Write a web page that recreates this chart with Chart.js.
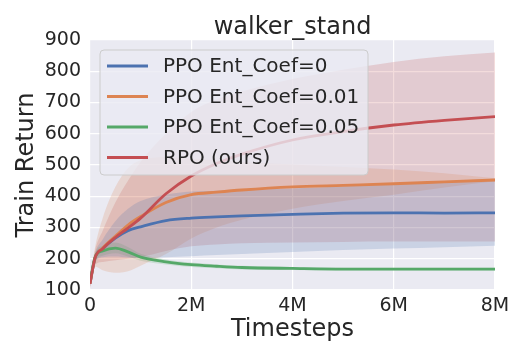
<!DOCTYPE html>
<html>
<head>
<meta charset="utf-8">
<script src="https://cdn.jsdelivr.net/npm/chart.js@4"></script>
<style>
  body { margin: 0; background: #fff; }
</style>
</head>
<body>
<canvas id="myChart" width="525" height="360"></canvas>
<script>
// timesteps in millions
var stepsM = [0, 0.1, 0.25, 0.5, 0.75, 1, 1.5, 2, 2.5, 3, 4, 5, 6, 7, 8];

var ppo0Mean = [120, 203, 232, 266, 290, 302, 322, 330, 334, 337, 342, 346, 347, 346, 347];
var ppo0Low  = [112, 188, 205, 207, 204, 203, 205, 208, 212, 215, 222, 228, 233, 237, 242];
var ppo0High = [128, 218, 262, 320, 360, 385, 405, 415, 418, 420, 425, 432, 440, 448, 456];

var ppo001Mean = [120, 203, 234, 272, 308, 335, 380, 405, 413, 420, 430, 435, 440, 446, 452];
var ppo001Low  = [110, 175, 163, 155, 160, 178, 215, 265, 300, 325, 360, 385, 405, 428, 448];
var ppo001High = [130, 237, 330, 430, 490, 515, 525, 520, 515, 510, 502, 494, 486, 474, 458];

var ppo005Mean = [125, 205, 225, 234, 222, 205, 190, 181, 176, 172, 169, 167, 167, 167, 167];
var ppo005Low  = [117, 192, 210, 218, 207, 194, 182, 174, 170, 166, 164, 163, 163, 163, 163];
var ppo005High = [133, 218, 242, 252, 238, 216, 198, 188, 182, 178, 174, 171, 171, 171, 171];

var rpoMean = [120, 203, 232, 268, 298, 330, 408, 465, 505, 535, 580, 607, 628, 643, 655];
var rpoLow  = [105, 180, 190, 195, 200, 205, 225, 240, 246, 250, 252, 254, 255, 255, 255];
var rpoHigh = [135, 228, 290, 380, 450, 510, 600, 670, 710, 735, 775, 805, 830, 848, 860];

var labels = ["PPO Ent_Coef=0", "PPO Ent_Coef=0.01", "PPO Ent_Coef=0.05", "RPO (ours)"];
var colors = ["#4C72B0", "#DD8452", "#55A868", "#C44E52"];
var bands = ["rgba(76,114,176,0.2)", "rgba(221,132,82,0.2)", "rgba(85,168,104,0.2)", "rgba(196,78,82,0.2)"];

var means = [ppo0Mean, ppo001Mean, ppo005Mean, rpoMean];
var lows = [ppo0Low, ppo001Low, ppo005Low, rpoLow];
var highs = [ppo0High, ppo001High, ppo005High, rpoHigh];

var FONT = '"DejaVu Sans", sans-serif';
var TEXT = "#262626";

function pts(arr) {
    return arr.map(function (v, i) { return { x: stepsM[i], y: v }; });
}

var datasets = [];
for (var i = 0; i < 4; i++) {
    datasets.push({
        data: pts(lows[i]), borderWidth: 0, pointRadius: 0, fill: false,
        cubicInterpolationMode: "monotone", order: 20 + i
    });
    datasets.push({
        data: pts(highs[i]), borderWidth: 0, pointRadius: 0, fill: "-1",
        backgroundColor: bands[i], cubicInterpolationMode: "monotone", order: 20 + i
    });
}
for (var j = 0; j < 4; j++) {
    datasets.push({
        label: labels[j], data: pts(means[j]), borderColor: colors[j], borderWidth: 2.8,
        pointRadius: 0, fill: false, cubicInterpolationMode: "monotone", order: 10 - j
    });
}

// grey axes background, title above the axes
var panel = {
    id: "panel",
    beforeDraw: function (chart) {
        var a = chart.chartArea, c = chart.ctx;
        c.save();
        c.fillStyle = "#EAEAF2";
        c.fillRect(a.left, a.top, a.right - a.left, a.bottom - a.top);
        c.restore();
    },
    afterDraw: function (chart) {
        var a = chart.chartArea, c = chart.ctx;
        c.save();
        c.fillStyle = TEXT;
        c.font = "24px " + FONT;
        c.textAlign = "center";
        c.textBaseline = "alphabetic";
        c.fillText("walker_stand", (a.left + a.right) / 2, 34);
        c.restore();
    }
};

// legend drawn inside the axes, upper left
var innerLegend = {
    id: "innerLegend",
    afterDatasetsDraw: function (chart) {
        var a = chart.chartArea, c = chart.ctx;
        var x = a.left + 10, y = a.top + 10, w = 268, h = 125;
        c.save();
        c.beginPath();
        c.roundRect(x, y, w, h, 4);
        c.fillStyle = "rgba(234,234,242,0.8)";
        c.fill();
        c.strokeStyle = "#CCCCCC";
        c.lineWidth = 1;
        c.stroke();
        c.font = "20px " + FONT;
        c.textBaseline = "middle";
        c.textAlign = "left";
        for (var k = 0; k < labels.length; k++) {
            var ry = y + 16 + k * 30.5;
            c.strokeStyle = colors[k];
            c.lineWidth = 2.8;
            c.beginPath();
            c.moveTo(x + 7, ry);
            c.lineTo(x + 48, ry);
            c.stroke();
            c.fillStyle = TEXT;
            c.fillText(labels[k], x + 63, ry + 1);
        }
        c.restore();
    }
};

var ctx = document.getElementById("myChart");
var myChart = new Chart(ctx, {
    type: "line",
    data: { datasets: datasets },
    options: {
        responsive: false,
        animation: false,
        layout: { padding: { top: 40, right: 30, left: 0, bottom: 0 } },
        plugins: {
            legend: { display: false },
            tooltip: { enabled: false }
        },
        scales: {
            x: {
                type: "linear", min: 0, max: 8,
                afterFit: function (s) { s.height = 70; },
                ticks: {
                    stepSize: 2, color: TEXT, padding: 5, maxRotation: 0,
                    font: { family: FONT, size: 19 },
                    callback: function (v) { return v === 0 ? "0" : v + "M"; }
                },
                grid: { color: "#FFFFFF", lineWidth: 1.2, drawTicks: false },
                border: { display: false },
                title: {
                    display: true, text: "Timesteps", color: TEXT,
                    font: { family: FONT, size: 24 }, padding: { top: 0, bottom: 16 }
                }
            },
            y: {
                min: 100, max: 900,
                afterFit: function (s) { s.width = 90; },
                ticks: {
                    stepSize: 100, color: TEXT, padding: 9,
                    font: { family: FONT, size: 19 }
                },
                grid: { color: "#FFFFFF", lineWidth: 1.2, drawTicks: false },
                border: { display: false },
                title: {
                    display: true, text: "Train Return", color: TEXT,
                    font: { family: FONT, size: 24 }, padding: { top: 12, bottom: 0 }
                }
            }
        }
    },
    plugins: [panel, innerLegend]
});
</script>
</body>
</html>
